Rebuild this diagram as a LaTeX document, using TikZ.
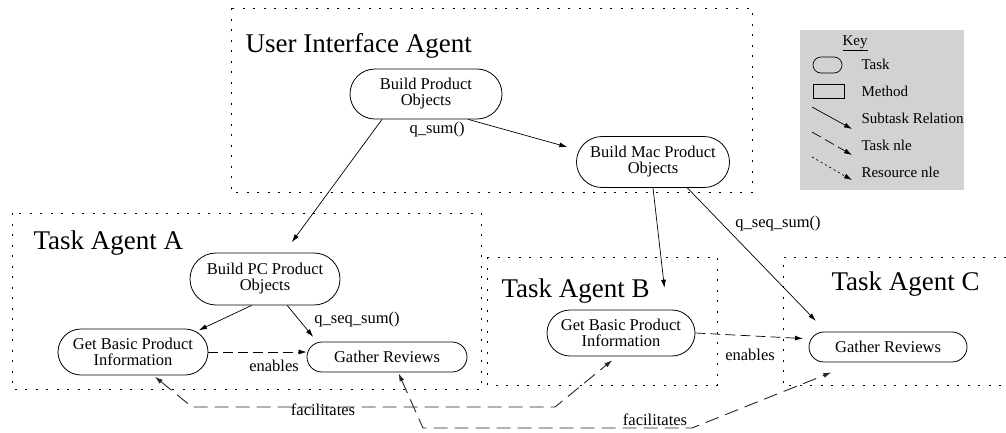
\documentclass[tikz,border=0pt]{standalone}
\usepackage{fontspec}
\setmainfont{Liberation Serif}
\newfontfamily\tms{Liberation Serif}
\usetikzlibrary{shapes,arrows,positioning,calc,arrows.meta}

\begin{document}
\begin{tikzpicture}[x=1pt, y=-1pt,
    task/.style={draw, rounded rectangle, line width=0.8pt, inner sep=0pt, align=center, font=\tms\fontsize{16.5}{16}\selectfont},
    agent/.style={draw, line width=0.8pt, dash pattern=on 2pt off 8.5pt},
    agentname/.style={anchor=base west, font=\tms\fontsize{27}{30}\selectfont},
    lbl/.style={font=\tms\fontsize{16.5}{16}\selectfont},
    keytxt/.style={anchor=west, font=\tms\fontsize{15}{15}\selectfont},
    sub/.style={-{Latex[length=8pt,width=5pt]}, line width=0.7pt},
    nle/.style={sub, dash pattern=on 10pt off 5pt},
    res/.style={sub, dash pattern=on 2pt off 3pt},
    fac/.style={{Latex[length=8pt,width=5pt]}-{Latex[length=8pt,width=5pt]}, line width=0.9pt, black!85, dash pattern=on 14pt off 7pt}]
    \useasboundingbox (0,0) rectangle (1006,432);

    % Key
    \fill[gray!35] (800,30) rectangle (964,190);
    \node[font=\tms\fontsize{15}{15}\selectfont] (key) at (855,43) {\underline{Key}};
    \node[draw, rounded rectangle, minimum width=29pt, minimum height=16pt, inner sep=0pt, line width=0.7pt] (ktask) at (827.5,65) {};
    \node[draw, minimum width=31pt, minimum height=14pt, inner sep=0pt, line width=0.7pt] (kmeth) at (828.5,91) {};
    \node[keytxt] (ktaskt) at (858,64) {Task};
    \node[keytxt] (kmetht) at (858,91) {Method};
    \node[keytxt] (ksubt) at (858,118) {Subtask Relation};
    \node[keytxt] (knlet) at (858,145) {Task nle};
    \node[keytxt] (krest) at (858,172) {Resource nle};
    \draw[sub] (812,107) -- (852,129);
    \draw[nle] (812,132) -- (852,155);
    \draw[res] (812,157) -- (852,180);

    % Agents
    \draw[agent] (231,8) rectangle (752,192);
    \draw[agent] (12,213) rectangle (481,389);
    \draw[agent] (487,257) rectangle (717,385);
    \draw[agent] (1006,257) -- (783,257) -- (783,385) -- (1006,385);
    \node[agentname] (ui) at (242,52) {User Interface Agent};
    \node[agentname] (ta) at (30,249) {Task Agent A};
    \node[agentname] (tb) at (498,297) {Task Agent B};
    \node[agentname] (tc) at (828,290) {Task Agent C};

    % Tasks
    \node[task, minimum width=152pt, minimum height=50pt] (bp) at (426,94) {Build Product\\Objects};
    \node[task, minimum width=153pt, minimum height=51pt] (mac) at (653,162) {Build Mac Product\\Objects};
    \node[task, minimum width=150pt, minimum height=52pt] (pc) at (265,279) {Build PC Product\\Objects};
    \node[task, minimum width=150pt, minimum height=46pt] (ga) at (133,352) {Get Basic Product\\Information};
    \node[task, minimum width=160pt, minimum height=30pt] (gra) at (387,357) {Gather Reviews};
    \node[task, minimum width=148pt, minimum height=46pt] (gb) at (621,333) {Get Basic Product\\Information};
    \node[task, minimum width=158pt, minimum height=30pt] (gc) at (888,347) {Gather Reviews};

    % Subtask relations
    \draw[sub, shorten >=13pt] (bp.-150) -- (pc.54);
    \draw[sub, shorten >=12pt] (bp.-31) -- (mac.171);
    \draw[sub, shorten >=22pt] (mac.south) -- (gb.27);
    \draw[sub, shorten >=15pt] (mac.-37) -- (gc.166);
    \draw[sub, shorten >=3pt] (pc.-117) -- (ga.18);
    \draw[sub, shorten >=7pt] (pc.-50) -- (gra.168);
    \node[lbl] (qsum) at (437,130) {q\_sum()};
    \node[lbl] (qseqa) at (357,320) {q\_seq\_sum()};
    \node[lbl] (qseqc) at (778,224) {q\_seq\_sum()};

    % enables
    \draw[nle] (ga.east) -- (ga.east -| gra.west);
    \draw[nle, shorten >=8pt] (gb.east) -- (gc.174);
    \node[lbl] (ena) at (274,366) {enables};
    \node[lbl] (enb) at (750,355) {enables};

    % facilitates
    \draw[fac, shorten <=2pt, shorten >=6pt] (ga.-49) -- (192,407) -- (555,407) -- (gb.-100);
    \draw[fac, shorten <=1pt, shorten >=27pt] (gra.-54) -- (423,428) -- (692,428) -- (gc.-154);
    \node[lbl] (faca) at (323,410) {facilitates};
    \node[lbl] (facb) at (655,420) {facilitates};
\end{tikzpicture}
\end{document}
